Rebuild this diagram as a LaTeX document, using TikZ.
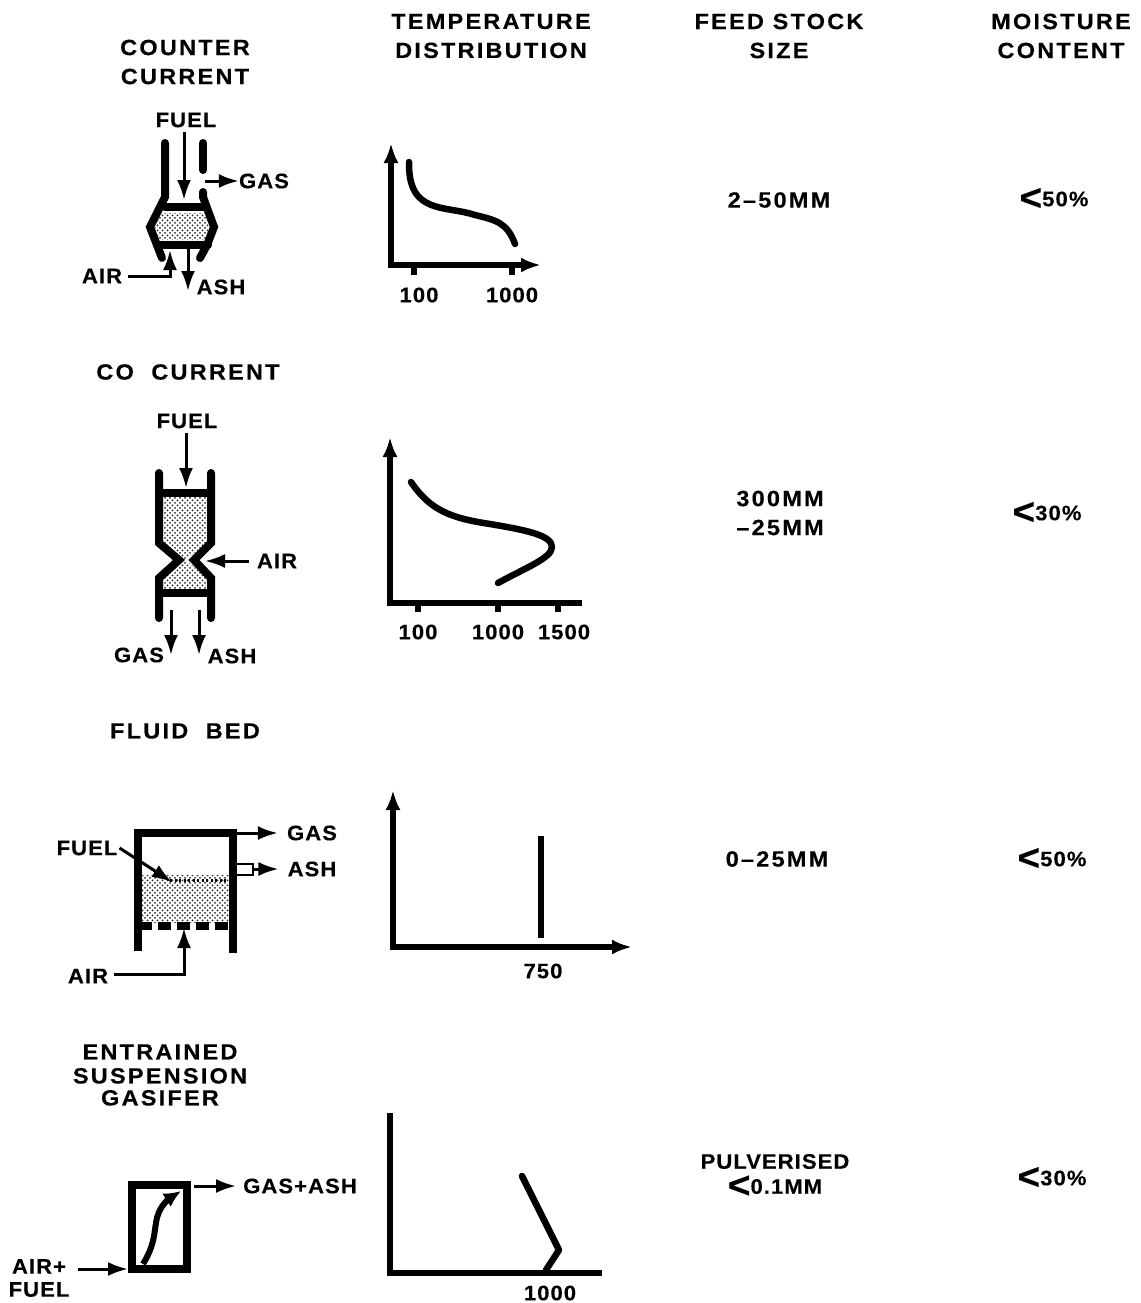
\documentclass[tikz,border=0pt]{standalone}
\usepackage{fontspec}
\usepackage{tikz}
\usetikzlibrary{arrows.meta,patterns}
\newfontfamily\labfont[LetterSpace=10,FakeStretch=1.07,FakeBold=0.3]{Liberation Sans Bold}
\newfontfamily\smallfont[LetterSpace=5,FakeStretch=1.05,FakeBold=0.3]{Liberation Sans Bold}
\pgfdeclarepatternformonly{bedDots}{\pgfqpoint{-1pt}{-1pt}}{\pgfqpoint{6pt}{6pt}}{\pgfqpoint{5pt}{5pt}}{
  \pgfpathcircle{\pgfqpoint{0pt}{0pt}}{1pt}
  \pgfpathcircle{\pgfqpoint{2.5pt}{2.5pt}}{1pt}
  \pgfusepath{fill}
}
\tikzset{
  lab/.style={font=\labfont\fontsize{22}{29}\selectfont,inner sep=0pt,align=center},
  small/.style={font=\smallfont\fontsize{21}{25}\selectfont,inner sep=0pt,align=center},
  wall/.style={line width=8pt,line join=miter,line cap=round},
  flow/.style={line width=3pt,-{Latex[length=20pt,width=14pt]}},
  axis/.style={line width=6pt},
  axisarrow/.style={line width=6pt,-{Latex[length=20pt,width=15pt]}},
  trace/.style={line width=6.5pt,line cap=round,line join=round},
  bed/.style={pattern=bedDots,pattern color=black!85}
}
\newcommand{\lessbig}{\raisebox{-4pt}[0pt][0pt]{\fontsize{37}{37}\selectfont<}}
\begin{document}
\begin{tikzpicture}[x=1pt,y=-1pt]
\useasboundingbox (0,0) rectangle (1140,1303);

\node[lab] (headTemp) at (491,36) {TEMPERATURE\\DISTRIBUTION};
\node[lab] (headFeed) at (779,36) {FEED STOCK\\SIZE};
\node[lab] (headMoist) at (1061,36) {MOISTURE\\CONTENT};

% counter current
\node[lab] (ccTitle) at (185,62) {COUNTER\\CURRENT};
\node[small] (ccFuel) at (186,120) {FUEL};
\node[small] (ccGas) at (264,181) {GAS};
\node[small] (ccAir) at (102,276) {AIR};
\node[small] (ccAsh) at (221,287) {ASH};
\fill[bed] (156,213) -- (205,213) -- (209,227) -- (205,240) -- (159,240) -- (155,227) -- cycle;
\draw[wall] (165,143) -- (165,197) -- (150,227) -- (162,258);
\draw[wall] (203,143) -- (203,170);
\draw[wall] (203,192) -- (203,197) -- (214,227) -- (207,245) -- (200,258);
\draw[wall] (165,207) -- (204,207);
\draw[wall] (157,245) -- (208,245);
\coordinate (ccFuelEnd) at (184,200);
\coordinate (ccGasStart) at (205,181);
\coordinate (ccAirCorner) at (170,276);
\coordinate (ccAirEnd) at (170,250);
\coordinate (ccAshStart) at (188,248);
\coordinate (ccAshEnd) at (188,291);
\draw[flow] ([yshift=-4pt]ccFuel.south -| ccFuelEnd) -- (ccFuelEnd);
\draw[flow] (ccGasStart) -- (ccGas.west);
\draw[flow] ([xshift=6pt]ccAir.east) -- (ccAirCorner) -- (ccAirEnd);
\draw[flow] (ccAshStart) -- (ccAshEnd);

\draw[axisarrow] (391,268) -- (391,143);
\draw[axisarrow] (388,265) -- (541,265);
\draw[axis] (414,265) -- (414,275);
\draw[axis] (512,265) -- (512,275);
\draw[trace] (409,162) .. controls (408,215) and (445,205) .. (475,215) .. controls (495,220) and (507,222) .. (515,244);
\node[small] (ccLow) at (419,295) {100};
\node[small] (ccHigh) at (512,295) {1000};
\node[lab] (ccSize) at (779,200) {2–50MM};
\node[small] (ccMoist) at (1054,199) {\lessbig50\%};

% co current
\node[lab] (coTitle) at (188,372) {CO\ \ CURRENT};
\node[small] (coFuel) at (187,421) {FUEL};
\node[small] (coAir) at (277,561) {AIR};
\node[small] (coGas) at (139,655) {GAS};
\node[small] (coAsh) at (232,656) {ASH};
\fill[bed] (163,497) -- (207,497) -- (207,543) -- (186,560) -- (207,578) -- (207,590) -- (163,590) -- (163,578) -- (186,560) -- (163,543) -- cycle;
\draw[wall] (159,473) -- (159,543) -- (179,560) -- (159,578) -- (159,618);
\draw[wall] (211,473) -- (211,543) -- (194,560) -- (211,578) -- (211,618);
\draw[wall] (159,493) -- (211,493);
\draw[wall] (159,593) -- (211,593);
\coordinate (coFuelEnd) at (186,488);
\coordinate (coAirEnd) at (205,561);
\coordinate (coGasStart) at (171,610);
\coordinate (coGasEnd) at (171,655);
\coordinate (coAshStart) at (199,610);
\coordinate (coAshEnd) at (199,655);
\draw[flow] ([yshift=-4pt]coFuel.south -| coFuelEnd) -- (coFuelEnd);
\draw[flow] ([xshift=-8pt]coAir.west) -- (coAirEnd);
\draw[flow] (coGasStart) -- (coGasEnd);
\draw[flow] (coAshStart) -- (coAshEnd);

\draw[axisarrow] (390,606) -- (390,437);
\draw[axis] (387,603) -- (582,603);
\draw[axis] (418,603) -- (418,612);
\draw[axis] (498,603) -- (498,612);
\draw[axis] (558,603) -- (558,612);
\draw[trace] (411,482) .. controls (430,510) and (450,518) .. (490,524) .. controls (525,530) and (552,535) .. (552,547) .. controls (552,558) and (525,568) .. (498,583);
\node[small] (coLow) at (418,632) {100};
\node[small] (coMid) at (498,632) {1000};
\node[small] (coHigh) at (564,632) {1500};
\node[lab] (coSize) at (780,513) {300MM\\–25MM};
\node[small] (coMoist) at (1047,513) {\lessbig30\%};

% fluid bed
\node[lab] (fbTitle) at (185,731) {FLUID\ \ BED};
\node[small] (fbFuel) at (87,848) {FUEL};
\node[small] (fbGas) at (312,833) {GAS};
\node[small] (fbAsh) at (312,869) {ASH};
\node[small] (fbAir) at (88,976) {AIR};
\fill[bed] (142,875) rectangle (229,922);
\draw[wall,line cap=butt] (138,951) -- (138,833) -- (233,833) -- (233,953);
\draw[wall,line cap=butt,dash pattern=on 13pt off 6pt] (139,926) -- (233,926);
\draw[line width=3pt,dash pattern=on 2pt off 2.5pt] (170,880) -- (228,880);
\coordinate (fbGasStart) at (233,833);
\coordinate (fbAshStart) at (253,869);
\coordinate (fbAshTop) at (253,864);
\coordinate (fbAshLow) at (253,875);
\coordinate (fbFuelEnd) at (172,882);
\coordinate (fbAirCorner) at (184,974);
\coordinate (fbAirEnd) at (184,928);
\draw[flow] (fbGasStart) -- ([xshift=-9pt]fbGas.west);
\draw[line width=2.5pt] (236,864) -- (fbAshTop) -- (fbAshLow) -- (236,875);
\draw[flow] (fbAshStart) -- ([xshift=-9pt]fbAsh.west);
\draw[flow] ([xshift=2pt]fbFuel.east) -- (fbFuelEnd);
\draw[flow] ([xshift=6pt]fbAir.east |- fbAirCorner) -- (fbAirCorner) -- (fbAirEnd);

\draw[axisarrow] (393,950) -- (393,790);
\draw[axisarrow] (390,947) -- (632,947);
\draw[trace,line cap=butt] (541,836) -- (541,938);
\node[small] (fbVal) at (543,971) {750};
\node[lab] (fbSize) at (777,859) {0–25MM};
\node[small] (fbMoist) at (1052,859) {\lessbig50\%};

% entrained
\node[lab] (esTitle) at (160,1075) {ENTRAINED\\[-5pt]SUSPENSION\\[-7pt]GASIFER};
\node[small] (esAir) at (39,1278) {AIR+\\[-2pt]FUEL};
\node[small] (esGas) at (300,1186) {GAS+ASH};
\draw[wall,line cap=butt] (132,1185) rectangle (187,1269);
\coordinate (esGasStart) at (194,1186);
\coordinate (esAirStart) at (78,1269);
\coordinate (esAirEnd) at (128,1269);
\coordinate (esCurveEnd) at (181,1191);
\draw[flow] (esGasStart) -- ([xshift=-7pt]esGas.west);
\draw[flow] (esAirStart) -- (esAirEnd);
\draw[line width=6pt,-{Latex[length=17pt,width=16pt]}] (143,1264) .. controls (158,1240) and (153,1225) .. (159,1212) .. controls (163,1203) and (170,1198) .. (esCurveEnd);

\draw[axis] (390,1113) -- (390,1273) -- (602,1273);
\draw[trace] (522,1176) -- (559,1250) -- (546,1270);
\node[small] (esVal) at (550,1293) {1000};
\node[small] (esSize) at (775,1174) {PULVERISED\\\lessbig0.1MM};
\node[small] (esMoist) at (1052,1178) {\lessbig30\%};
\end{tikzpicture}
\end{document}
